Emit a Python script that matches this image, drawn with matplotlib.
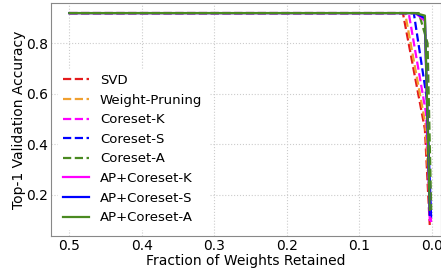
import matplotlib
matplotlib.use("Agg")
import matplotlib.pyplot as plt

labels = ["SVD", "Weight-Pruning", "Coreset-K", "Coreset-S", "Coreset-A",
          "AP+Coreset-K", "AP+Coreset-S", "AP+Coreset-A"]
colors = ["#e41a1c", "#f0a030", "#ff00ff", "#0000ff", "#4a8a20",
          "#ff00ff", "#0000ff", "#4a8a20"]
styles = ["--", "--", "--", "--", "--", "-", "-", "-"]

x_svd = [0.5, 0.3, 0.1, 0.04, 0.0097, 0.003]
y_svd = [0.92, 0.92, 0.92, 0.92, 0.46, 0.08]
x_wp = [0.5, 0.3, 0.1, 0.037, 0.009, 0.002]
y_wp = [0.92, 0.92, 0.92, 0.92, 0.48, 0.10]
x_ck = [0.5, 0.3, 0.1, 0.032, 0.008, 0.001]
y_ck = [0.92, 0.92, 0.92, 0.92, 0.52, 0.08]
x_cs = [0.5, 0.3, 0.1, 0.025, 0.007, 0.001]
y_cs = [0.92, 0.92, 0.92, 0.92, 0.58, 0.10]
x_ca = [0.5, 0.3, 0.1, 0.018, 0.006, 0.001]
y_ca = [0.92, 0.92, 0.92, 0.92, 0.80, 0.14]
x_apk = [0.5, 0.3, 0.1, 0.023, 0.0097, 0.003]
y_apk = [0.92, 0.92, 0.92, 0.92, 0.89, 0.10]
x_aps = [0.5, 0.3, 0.1, 0.023, 0.0097, 0.003]
y_aps = [0.92, 0.92, 0.92, 0.92, 0.90, 0.12]
x_apa = [0.5, 0.3, 0.1, 0.023, 0.0097, 0.003]
y_apa = [0.92, 0.92, 0.92, 0.92, 0.91, 0.14]

xs = [x_svd, x_wp, x_ck, x_cs, x_ca, x_apk, x_aps, x_apa]
ys = [y_svd, y_wp, y_ck, y_cs, y_ca, y_apk, y_aps, y_apa]

xticks = [0.5, 0.4, 0.3, 0.2, 0.1, 0.0]
yticks = [0.2, 0.4, 0.6, 0.8]

fig = plt.figure(figsize=(4.41, 2.72), dpi=100)
ax = fig.add_axes([0.116, 0.132, 0.884, 0.857])
for x, y, c, s, l in zip(xs, ys, colors, styles, labels):
    ax.plot(x, y, linestyle=s, color=c, label=l, linewidth=1.6)
ax.set_xlim(0.525, -0.0125)
ax.set_ylim(0.036, 0.96)
ax.set_xticks(xticks)
ax.set_xticklabels([f"{v:.1f}" for v in xticks])
ax.set_yticks(yticks)
ax.set_yticklabels([f"{v:.1f}" for v in yticks])
ax.grid(True, linestyle=":", color="#cccccc", linewidth=0.8)
for sp in ax.spines.values():
    sp.set_color("#888888")
ax.tick_params(labelsize=10, length=0, pad=2)
ax.set_xlabel("Fraction of Weights Retained", fontsize=10, labelpad=1)
ax.set_ylabel("Top-1 Validation Accuracy", fontsize=10, labelpad=0)
leg = ax.legend(loc="lower left", bbox_to_anchor=(0.0, 0.0), fontsize=9.5,
                frameon=True, framealpha=1.0, edgecolor="white",
                handlelength=2.0, labelspacing=0.5)
fig.savefig("out.png", dpi=100)
